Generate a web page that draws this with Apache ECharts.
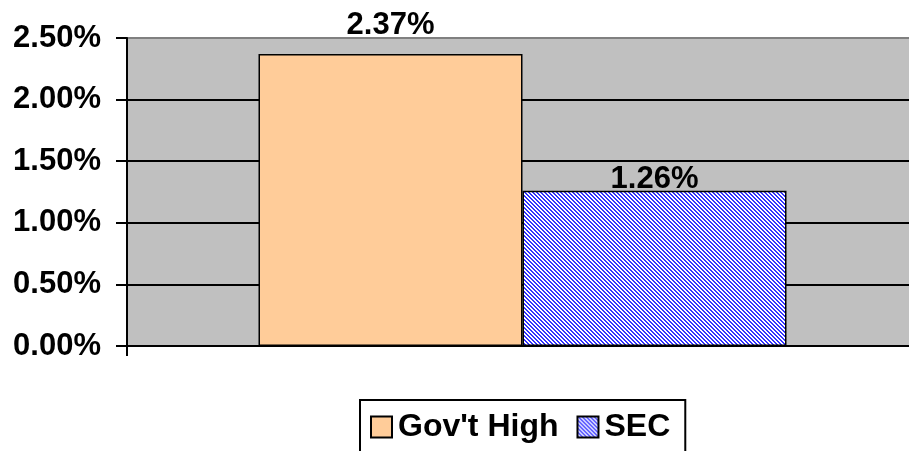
<!DOCTYPE html>
<html>
<head>
<meta charset="utf-8">
<script src="https://cdn.jsdelivr.net/npm/echarts@6/dist/echarts.min.js"></script>
<style>html,body{margin:0;padding:0;background:#fff}#c{width:909px;height:451px}</style>
</head>
<body>
<div id="c"></div>
<script>
var categories = [''];
var seriesNames = ["Gov't High", 'SEC'];
var govHigh = [0.0237];
var sec = [0.0126];
var yTicks = [0, 0.005, 0.01, 0.015, 0.02, 0.025];

function makePattern() {
  var cv = document.createElement('canvas');
  cv.width = 4; cv.height = 4;
  var ctx = cv.getContext('2d');
  ctx.fillStyle = '#ffffff';
  ctx.fillRect(0, 0, 4, 4);
  ctx.fillStyle = '#3333ff';
  for (var y = 0; y < 4; y++) {
    ctx.fillRect(y % 4, y, 1, 1);
    ctx.fillRect((y + 1) % 4, y, 1, 1);
  }
  return { image: cv, repeat: 'repeat' };
}

var font = 'Liberation Sans, Arial, sans-serif';
var fs = 31;
function pct(v) { return (v * 100).toFixed(2) + '%'; }
var chart = echarts.init(document.getElementById('c'), null, { renderer: 'canvas' });
chart.setOption({
  animation: false,
  grid: {
    left: 127, right: -9, top: 38, bottom: 105,
    outerBoundsMode: 'none', containLabel: false,
    show: true, backgroundColor: '#C0C0C0', borderColor: '#808080', borderWidth: 2
  },
  xAxis: {
    type: 'category', data: categories,
    axisLine: { lineStyle: { color: '#000', width: 2 } },
    axisTick: { show: true, length: 10, lineStyle: { color: '#000', width: 2 } },
    axisLabel: { show: false }
  },
  yAxis: {
    type: 'value', min: yTicks[0], max: yTicks[yTicks.length - 1], interval: 0.005,
    axisLine: { show: true, lineStyle: { color: '#000', width: 2 } },
    axisTick: { show: true, length: 11, lineStyle: { color: '#000', width: 2 } },
    axisLabel: {
      margin: 26, color: '#000', fontFamily: font, fontWeight: 'bold', fontSize: fs,
      formatter: pct
    },
    splitLine: { show: true, lineStyle: { color: ['#000', '#000', '#000', '#000', '#000', '#808080'], width: 2 } }
  },
  legend: {
    left: 360, top: 400,
    padding: [11, 15, 30, 10],
    borderColor: '#000', borderWidth: 2, backgroundColor: '#fff',
    itemWidth: 21, itemHeight: 21, itemGap: 18,
    icon: 'rect',
    textStyle: { color: '#000', fontFamily: font, fontWeight: 'bold', fontSize: 32, padding: [0, 0, 0, 1] },
    data: seriesNames
  },
  series: [
    {
      name: seriesNames[0], type: 'bar', data: govHigh, barWidth: 264, barGap: '0%',
      itemStyle: { color: '#FFCC99', borderColor: '#000', borderWidth: 1.5 },
      label: {
        show: true, position: 'top', distance: 13, color: '#000', fontFamily: font, fontWeight: 'bold', fontSize: fs,
        formatter: function (p) { return pct(p.value); }
      }
    },
    {
      name: seriesNames[1], type: 'bar', data: sec, barWidth: 264,
      itemStyle: { color: makePattern(), borderColor: '#000', borderWidth: 1.5 },
      label: {
        show: true, position: 'top', distance: -4, color: '#000', fontFamily: font, fontWeight: 'bold', fontSize: fs,
        formatter: function (p) { return pct(p.value); }
      }
    }
  ]
});
</script>
</body>
</html>
